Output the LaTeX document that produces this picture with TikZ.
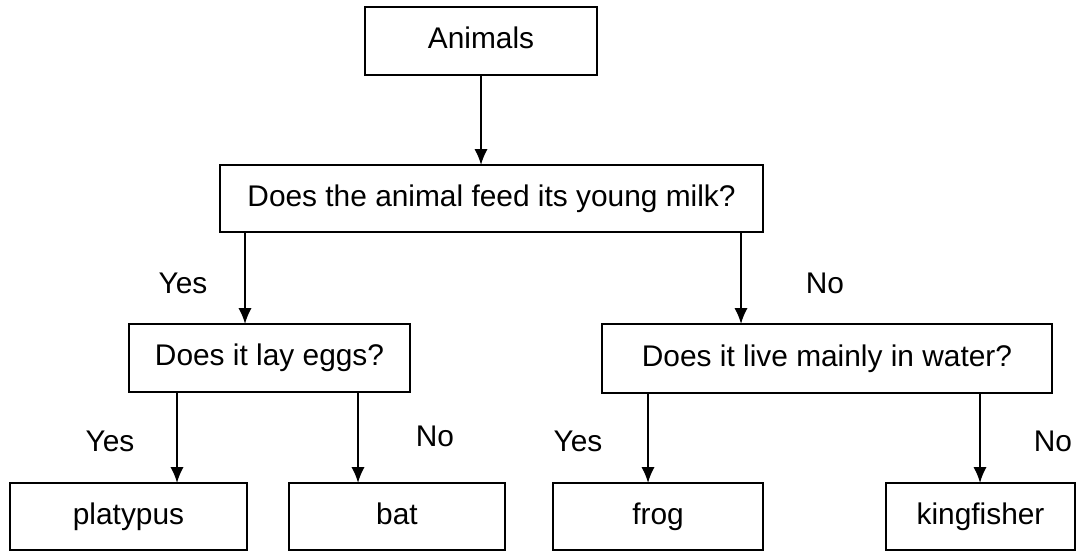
\documentclass[tikz,border=0pt]{standalone}
\usepackage{fontspec}
\setmainfont{Liberation Sans}
\usepackage{tikz}
\usetikzlibrary{arrows.meta, positioning}

\begin{document}
\begin{tikzpicture}[
  x=0.02cm, y=-0.02cm,
  box/.style={rectangle, draw, line width=1.2pt, inner sep=0pt, outer sep=0pt, minimum height=1.36cm, text height=12.5pt, text depth=3.5pt, font=\fontsize{17}{20}\selectfont},
  answer/.style={inner sep=0pt, font=\fontsize{17}{20}\selectfont},
  every edge/.style={draw, line width=1.1pt, -{Latex[width=7.5pt,length=9pt]}}
  ]
\useasboundingbox (0,0) rectangle (1077,551);

% Nodes
\node[box, minimum width=4.64cm] (animals) at (481,41) {Animals};
\node[box, minimum width=10.86cm, minimum height=1.34cm] (milk) at (491.5,198.5) {Does the animal feed its young milk?};
\node[box, minimum width=5.62cm] (eggs) at (269.5,358) {Does it lay eggs?};
\node[box, minimum width=9cm, minimum height=1.38cm] (water) at (827,358.5) {Does it live mainly in water?};
\node[box, minimum width=4.74cm, minimum height=1.34cm] (platypus) at (128.5,516.5) {platypus};
\node[box, minimum width=4.32cm, minimum height=1.34cm] (bat) at (397,516.5) {bat};
\node[box, minimum width=4.2cm, minimum height=1.34cm] (frog) at (658,516.5) {frog};
\node[box, minimum width=3.78cm, minimum height=1.34cm] (kingfisher) at (980.5,516.5) {kingfisher};

% arrow columns
\coordinate (c1) at (245,0);
\coordinate (c2) at (741,0);
\coordinate (c3) at (177,0);
\coordinate (c4) at (358,0);
\coordinate (c5) at (648,0);
\coordinate (c6) at (980,0);

% Edges
\path (animals) edge (animals.south |- milk.north);
\path (milk.south -| c1) edge (eggs.north -| c1);
\path (milk.south -| c2) edge (water.north -| c2);
\path (eggs.south -| c3) edge (platypus.north -| c3);
\path (eggs.south -| c4) edge (bat.north -| c4);
\path (water.south -| c5) edge (frog.north -| c5);
\path (water.south -| c6) edge (kingfisher.north -| c6);

% Labels
\node[answer] (yes1) at (183,283) {Yes};
\node[answer] (no1) at (825,283) {No};
\node[answer] (yes2) at (110,441) {Yes};
\node[answer] (no2) at (435,436) {No};
\node[answer] (yes3) at (578,441) {Yes};
\node[answer] (no3) at (1053,441) {No};

\end{tikzpicture}
\end{document}
